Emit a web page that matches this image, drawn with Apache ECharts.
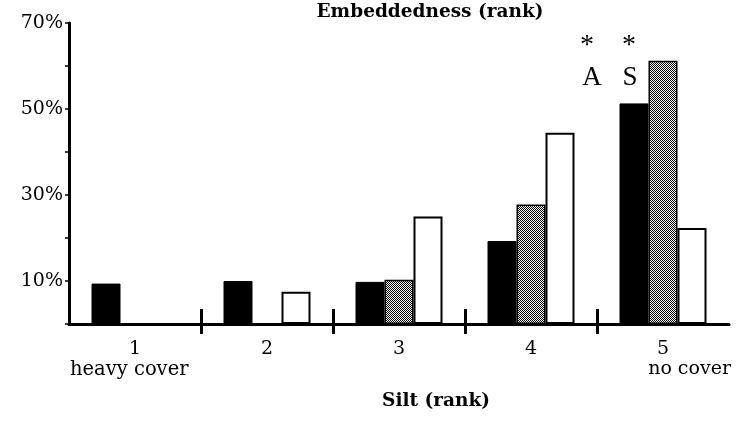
<!DOCTYPE html>
<html>
<head>
<meta charset="utf-8">
<script src="https://cdn.jsdelivr.net/npm/echarts@6/dist/echarts.min.js"></script>
<style>html,body{margin:0;padding:0;background:#fff}#c{width:740px;height:422px}</style>
</head>
<body>
<div id="c"></div>
<script>
const categories = ['1', '2', '3', '4', '5'];
const blackValues = [9.4, 10.0, 9.8, 19.3, 51.3];
const hatchedValues = [null, null, 10.3, 27.8, 61.2];
const whiteValues = [null, 7.5, 25.0, 44.5, 22.3];
const yTicks = [0, 10, 20, 30, 40, 50, 60, 70];
const yLabelled = [10, 30, 50, 70];
const separators = [1, 2, 3, 4];

const pc = document.createElement('canvas');
pc.width = 2; pc.height = 2;
const pctx = pc.getContext('2d');
pctx.fillStyle = '#fff'; pctx.fillRect(0, 0, 2, 2);
pctx.fillStyle = '#000'; pctx.fillRect(0, 0, 1, 1); pctx.fillRect(1, 1, 1, 1);

const serif = 'DejaVu Serif';
const chart = echarts.init(document.getElementById('c'), null, {renderer: 'canvas'});
chart.setOption({
  animation: false,
  backgroundColor: '#fff',
  title: {
    text: 'Embeddedness (rank)', left: 425, top: -2, textAlign: 'center',
    textStyle: {fontFamily: serif, fontWeight: 'bold', fontSize: 18.5, color: '#000'}
  },
  grid: {left: 69, right: 11, top: 23, bottom: 98},
  xAxis: [{
    type: 'category', data: categories,
    axisLine: {lineStyle: {color: '#000', width: 3}},
    axisTick: {show: false},
    axisLabel: {fontFamily: serif, fontSize: 19, color: '#000', margin: 16},
    name: 'Silt (rank)', nameLocation: 'middle', nameGap: 68,
    nameTextStyle: {fontFamily: serif, fontWeight: 'bold', fontSize: 18.5, color: '#000', padding: [0, 0, 0, 74]}
  }, {
    type: 'value', min: 0, max: 5, position: 'bottom', offset: -15,
    axisLine: {show: false},
    splitLine: {show: false},
    axisLabel: {show: false},
    axisTick: {show: true, customValues: separators, length: 25, lineStyle: {color: '#000', width: 3}}
  }],
  yAxis: {
    type: 'value', min: 0, max: 70, interval: 10,
    axisLine: {show: true, lineStyle: {color: '#000', width: 3}},
    axisTick: {show: true, length: 4, lineStyle: {color: '#000', width: 1.5}},
    splitLine: {show: false},
    axisLabel: {
      fontFamily: serif, fontSize: 19, color: '#000', margin: 6,
      formatter: v => yLabelled.indexOf(v) >= 0 ? v + '%' : ''
    }
  },
  series: [{
    type: 'bar', data: blackValues, barWidth: 29, barGap: '0%',
    itemStyle: {color: '#000', borderColor: '#000', borderWidth: 1}
  }, {
    type: 'bar', data: hatchedValues, barWidth: 29, barGap: '0%',
    itemStyle: {color: {image: pc, repeat: 'repeat'}, borderColor: '#000', borderWidth: 1.5}
  }, {
    type: 'bar', data: whiteValues, barWidth: 29, barGap: '0%',
    itemStyle: {color: '#fff', borderColor: '#000', borderWidth: 2}
  }],
  graphic: [
    {type: 'text', left: 70, top: 360, style: {text: 'heavy cover', font: '19.5px "DejaVu Serif"', fill: '#000'}},
    {type: 'text', right: 9, top: 360, style: {text: 'no cover', font: '19px "DejaVu Serif"', fill: '#000'}},
    {type: 'text', x: 587, y: 46, style: {text: '*', font: '28px "Liberation Serif"', fill: '#000', align: 'center', verticalAlign: 'middle'}},
    {type: 'text', x: 629, y: 46, style: {text: '*', font: '28px "Liberation Serif"', fill: '#000', align: 'center', verticalAlign: 'middle'}},
    {type: 'text', x: 592, y: 78, style: {text: 'A', font: '27px "Liberation Serif"', fill: '#000', align: 'center', verticalAlign: 'middle'}},
    {type: 'text', x: 630, y: 78, style: {text: 'S', font: '27px "Liberation Serif"', fill: '#000', align: 'center', verticalAlign: 'middle'}}
  ]
});
</script>
</body>
</html>
